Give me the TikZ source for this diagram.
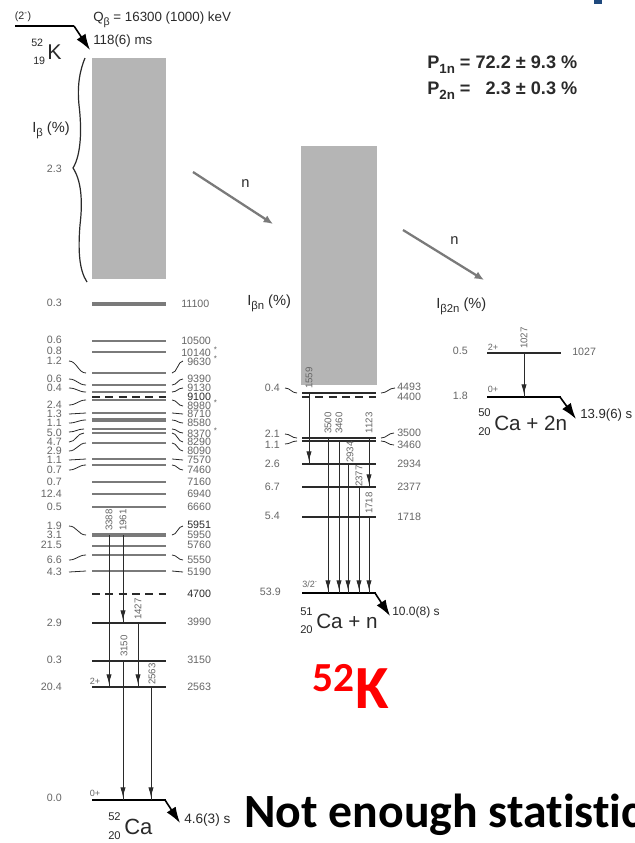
\documentclass[tikz,border=0pt]{standalone}
\usepackage{fontspec}
\setmainfont{Liberation Sans}
\newfontfamily\carl[Ligatures=NoCommon]{Carlito}
\usetikzlibrary{arrows.meta}
\definecolor{txtg}{HTML}{666666}
\definecolor{lev}{HTML}{7A7A7A}
\definecolor{dk}{HTML}{2A2A2A}
\definecolor{boxg}{HTML}{B5B5B5}
\definecolor{topblue}{HTML}{1F497D}
\newcount\tcnt
\newcommand{\fs}[1]{\fontsize{#1}{#1}\selectfont}
\newcommand{\LB}[3]{\global\advance\tcnt by 1 \node[lab,anchor=east] (t\the\tcnt) at (#1,#2) {#3};}
\newcommand{\RB}[3]{\global\advance\tcnt by 1 \node[lab,anchor=west] (t\the\tcnt) at (#1,#2) {#3};}
\newcommand{\DB}[3]{\global\advance\tcnt by 1 \node[lab,anchor=west,text=dk] (t\the\tcnt) at (#1,#2) {#3};}
\newcommand{\GL}[3]{\global\advance\tcnt by 1 \node[glab] (t\the\tcnt) at (#1,#2) {#3};}
\newcommand{\SP}[3]{\global\advance\tcnt by 1 \node[spin] (t\the\tcnt) at (#1,#2) {#3};}
\newcommand{\TX}[4]{\global\advance\tcnt by 1 \node[big,anchor=west,font=\fs{#1}] (t\the\tcnt) at (#2,#3) {#4};}
\newcommand{\GM}[3]{\global\advance\tcnt by 1
  \coordinate (ga\the\tcnt) at (#1,#2); \coordinate (gb\the\tcnt) at (#1,#3);
  \draw[gline] (ga\the\tcnt) -- (gb\the\tcnt);
  \draw[gline,-{Latex[length=7.5pt,width=4pt]},shorten >=2pt] (ga\the\tcnt) -- (gb\the\tcnt);}
\newcommand{\SQ}[4]{\draw[sq] (#1,#2) .. controls ({#1+0.45*(#3-#1)},#2) and ({#1+0.55*(#3-#1)},#4) .. (#3,#4);}
\newcommand{\sub}[2]{\raisebox{-0.28em}{\fs{#1}#2}}
\tikzset{
 lab/.style={inner sep=0pt,text=txtg,font=\fs{8}},
 glab/.style={inner sep=0pt,text=txtg,font=\fs{7.3},rotate=90},
 spin/.style={inner sep=0pt,text=txtg,font=\fs{6.8}},
 big/.style={inner sep=0pt,text=dk},
 lv/.style={draw=lev,line width=0.8pt},
 lvthick/.style={draw=lev,line width=2.4pt},
 lvdk/.style={draw=dk,line width=0.8pt},
 lvdash/.style={draw=dk,line width=0.8pt,dash pattern=on 6pt off 4pt},
 gs/.style={draw=black,line width=1.7pt},
 gline/.style={draw=dk,fill=dk,line width=0.7pt},
 sq/.style={draw=dk,line width=0.6pt},
 tail/.style={draw=black,line width=1.2pt,-{Latex[length=12pt,width=8pt]}},
 narrow/.style={draw=lev,line width=1.7pt,-{Latex[length=7pt,width=6pt]}},
}
\begin{document}
\begin{tikzpicture}[x=0.75pt,y=-0.75pt]
\useasboundingbox (0,0) rectangle (635,843);
\clip (0,0) rectangle (635,843);
\fill[white] (0,0) rectangle (635,843);
\fill[topblue] (594,0) rectangle (602,4);
\fill[boxg] (92,58) rectangle (166,279);
\fill[boxg] (301,146) rectangle (377,385);
% parent
\coordinate (pa) at (15,26); \coordinate (pb) at (74,26); \coordinate (pc) at (90,50);
\draw[line width=1.7pt] (pa) -- (pb);
\draw[tail] (pb) -- (pc);
\node[spin,text=dk,font=\fs{8}] (pspin) at (23,17) {(2\textsuperscript{-})};
\TX{10}{93}{20}{Q\sub{8}{β} = 16300 (1000) keV}
\TX{10}{93}{41}{118(6) ms}
\TX{8}{31}{43}{52}
\TX{8}{33}{61}{19}
\TX{16}{47}{52}{K}
% brace
\draw[sq,line width=0.9pt] (85,58) .. controls (80,70) and (77,85) .. (79,105)
  .. controls (82,130) and (81,155) .. (73,168)
  .. controls (81,180) and (83,200) .. (80,225)
  .. controls (78,250) and (79,270) .. (87,282);
\TX{11}{32}{130}{I\sub{8.5}{β} (\%)}
\LB{62}{169}{2.3}
% levels column 1
\foreach \y in {341,352,373,385,392,400,413,429,433,443,459,465,482,494,507,546,555,571}
  \draw[lv] (92,\y) -- (166,\y);
\draw[lvthick] (92,304) -- (166,304);
\draw[lvthick] (92,420) -- (166,420);
\draw[lvthick] (92,535) -- (166,535);
\draw[lvdash] (92,397) -- (166,397);
\draw[lvdash] (92,594) -- (166,594);
\foreach \y in {623,661,687} \draw[lvdk] (92,\y) -- (166,\y);
\draw[gs] (92,800) -- (166,800);
\draw[tail] (165,800) -- (180,823);
% left squiggles
\SQ{69}{361}{86}{373}\SQ{69}{379}{86}{385}\SQ{69}{388}{86}{392}\SQ{69}{405}{86}{400}
\SQ{69}{414}{86}{413}\SQ{69}{423}{86}{420}\SQ{69}{432}{84}{429}\SQ{69}{442}{84}{433}
\SQ{69}{451}{86}{443}\SQ{69}{460}{86}{459}\SQ{69}{470}{86}{465}\SQ{69}{526}{86}{535}
\SQ{69}{560}{86}{555}\SQ{69}{572}{86}{571}
% right squiggles
\SQ{172}{373}{183}{361}\SQ{172}{385}{183}{379}\SQ{172}{392}{183}{388}\SQ{172}{400}{183}{406}
\SQ{172}{413}{183}{414}\SQ{172}{420}{183}{423}\SQ{172}{429}{183}{433}\SQ{172}{433}{183}{442}
\SQ{172}{443}{183}{451}\SQ{172}{459}{183}{460}\SQ{172}{465}{183}{470}\SQ{172}{535}{183}{526}
\SQ{172}{555}{183}{560}\SQ{172}{571}{183}{572}
% labels column 1 left
\LB{62}{303}{0.3}\LB{62}{340}{0.6}\LB{62}{351}{0.8}\LB{62}{361}{1.2}\LB{62}{379}{0.6}
\LB{62}{388}{0.4}\LB{62}{405}{2.4}\LB{62}{414}{1.3}\LB{62}{423}{1.1}\LB{62}{433}{5.0}
\LB{62}{442}{4.7}\LB{62}{451}{2.9}\LB{62}{460}{1.1}\LB{62}{470}{0.7}\LB{62}{482}{0.7}
\LB{62}{494}{12.4}\LB{62}{507}{0.5}\LB{62}{526}{1.9}\LB{62}{535}{3.1}\LB{62}{545}{21.5}
\LB{62}{560}{6.6}\LB{62}{572}{4.3}\LB{62}{623}{2.9}\LB{62}{660}{0.3}\LB{62}{687}{20.4}\LB{62}{798}{0.0}
% labels column 1 right
\RB{181}{304}{11100}\RB{181}{341}{10500}\RB{181}{352}{10140 \textsuperscript{*}}
\RB{187}{361}{9630 \textsuperscript{*}}\RB{187}{379}{9390}\RB{187}{388}{9130}\DB{187}{397}{9100}
\RB{187}{405}{8980 \textsuperscript{*}}\RB{187}{414}{8710}\RB{187}{423}{8580}\RB{187}{433}{8370 \textsuperscript{*}}
\RB{187}{442}{8290}\RB{187}{451}{8090}\RB{187}{460}{7570}\RB{187}{470}{7460}\RB{187}{482}{7160}
\RB{187}{494}{6940}\RB{187}{507}{6660}\DB{187}{525}{5951}\RB{187}{535}{5950}\RB{187}{545}{5760}
\RB{187}{560}{5550}\RB{187}{572}{5190}\DB{187}{594}{4700}\RB{187}{622}{3990}\RB{187}{660}{3150}\RB{187}{687}{2563}
% gammas column 1
\GM{109}{535}{687}\GM{123}{535}{623}\GM{138}{623}{687}\GM{123}{661}{800}\GM{151}{687}{800}
\GL{109}{520}{3388}\GL{123}{520}{1961}\GL{138}{609}{1427}\GL{124}{646}{3150}\GL{152}{674}{2563}
\SP{95}{681}{2+}\SP{95}{793}{0+}
\TX{8.4}{108}{817}{52}\TX{8.4}{108}{836}{20}\TX{16.5}{124}{827}{Ca}
\TX{10.2}{184}{820}{4.6(3) s}
% column 2
\foreach \y in {393,438,441,464,487,517} \draw[lvdk] (302,\y) -- (376,\y);
\draw[lvdash] (302,397) -- (376,397);
\draw[gs] (302,593) -- (376,593);
\draw[tail] (375,593) -- (390,616);
\SQ{285}{388}{297}{393}\SQ{285}{434}{297}{438}\SQ{285}{444}{297}{441}
\SQ{381}{393}{395}{388}\SQ{381}{438}{394}{433}\SQ{381}{441}{394}{445}
\LB{280}{388}{0.4}\LB{280}{434}{2.1}\LB{280}{445}{1.1}\LB{280}{464}{2.6}\LB{280}{487}{6.7}\LB{280}{516}{5.4}\LB{281}{592}{53.9}
\RB{397}{387}{4493}\RB{397}{397}{4400}\RB{397}{433}{3500}\RB{397}{445}{3460}\RB{397}{464}{2934}\RB{397}{487}{2377}\RB{397}{517}{1718}
\GM{309}{393}{464}\GM{328}{438}{593}\GM{339}{441}{593}\GM{348}{464}{593}\GM{359}{487}{593}\GM{369}{517}{593}\GM{369}{438}{487}
\GL{309}{378}{1559}\GL{328}{423}{3500}\GL{339}{423}{3460}\GL{350}{452}{2934}\GL{359}{476}{2377}\GL{369}{423}{1123}\GL{369}{503}{1718}
\SP{310}{584}{3/2\textsuperscript{-}}
\TX{8.4}{300}{612}{51}\TX{8.4}{300}{630}{20}\TX{15.5}{316}{621}{Ca + n}
\TX{9}{392}{612}{10.0(8) s}
\TX{11}{247}{303}{I\sub{8.5}{βn} (\%)}
% column 3
\draw[lvdk] (487,353) -- (561,353);
\draw[gs] (487,397) -- (561,397);
\draw[tail] (560,397) -- (576,419);
\GM{524}{353}{397}
\GL{524}{338}{1027}
\SP{493}{347}{2+}\SP{493}{389}{0+}
\LB{468}{351}{0.5}\LB{468}{396}{1.8}\RB{572}{352}{1027}
\TX{8.4}{478}{413}{50}\TX{8.4}{478}{432}{20}\TX{15.5}{494}{423}{Ca + 2n}
\TX{9.9}{580}{415}{13.9(6) s}
\TX{11}{436}{306}{I\sub{8.5}{β2n} (\%)}
% neutron arrows
\coordinate (n1a) at (193,172); \coordinate (n1b) at (273,224);
\coordinate (n2a) at (403,230); \coordinate (n2b) at (484,280);
\draw[narrow] (n1a) -- (n1b);
\draw[narrow] (n2a) -- (n2b);
\TX{11}{241}{184}{n}\TX{11}{450}{241}{n}
% probabilities
\TX{13.6}{427}{65}{\bfseries P\sub{10}{\bfseries 1n} = 72.2 ± 9.3 \%}
\TX{13.6}{427}{91}{\bfseries P\sub{10}{\bfseries 2n} = \ \ 2.3 ± 0.3 \%}
% overlays
\node[inner sep=0pt,anchor=base west,text=red,font=\carl\bfseries\fs{31}] (red52) at (312,691) {52};
\node[inner sep=0pt,anchor=base west,text=red,font=\carl\bfseries\fs{46}] (redK) at (355,708) {K};
\node[inner sep=0pt,anchor=base west,text=black,font=\carl\bfseries\fs{35.8}] (nes) at (244,827) {Not enough statistics};
\end{tikzpicture}
\end{document}
